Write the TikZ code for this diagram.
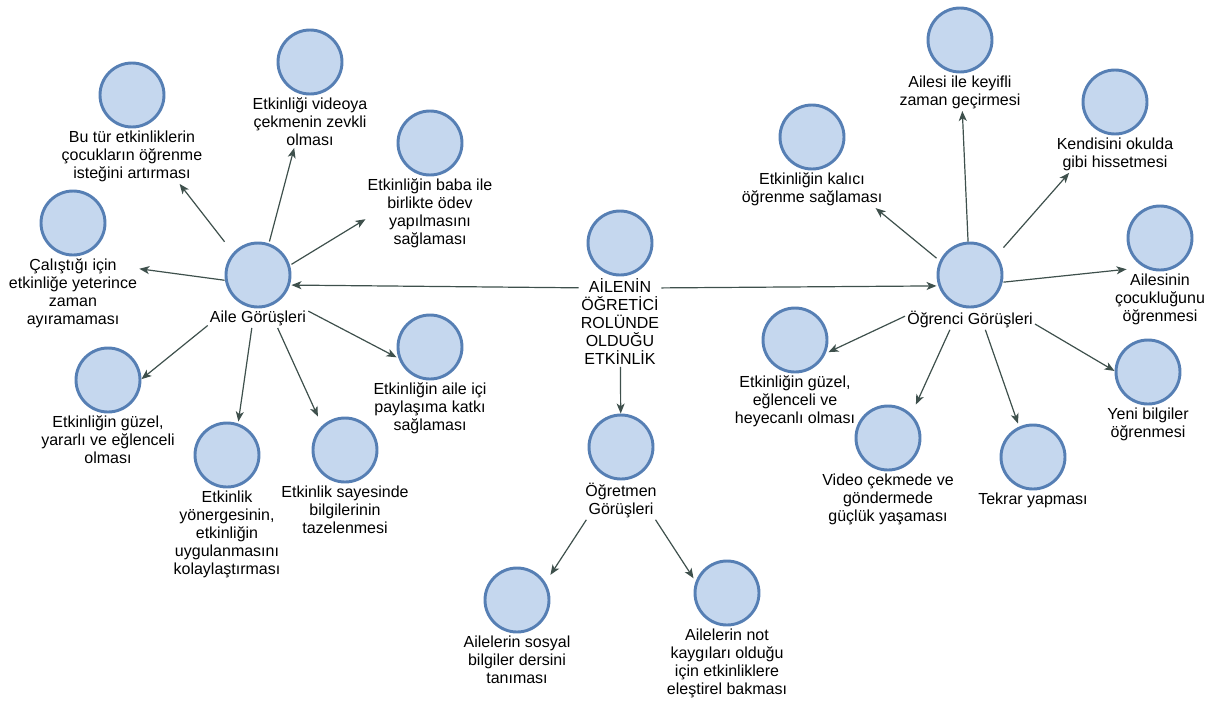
\documentclass[tikz,border=0pt]{standalone}
\usepackage{fontspec}
\setmainfont{Liberation Sans}
\usetikzlibrary{positioning,fit,arrows.meta,intersections}
\definecolor{circF}{RGB}{197,215,238}
\definecolor{circB}{RGB}{86,127,180}
\definecolor{arrC}{RGB}{62,80,76}

\begin{document}
\begin{tikzpicture}[x=0.75pt,y=-0.75pt,
    dot/.style={circle,draw=circB,fill=circF,line width=2.2pt,minimum size=48pt,inner sep=0pt},
    lbl/.style={align=center,inner sep=1.5pt,font=\fontsize{12}{13.5}\selectfont},
    grp/.style={inner sep=0pt},
    arr/.style={draw=arrC,line width=0.9pt,-{Stealth[length=7.5pt,width=6pt,inset=2pt]}}]
      \useasboundingbox (0,0) rectangle (1221,722);
      % circles with their texts
      \foreach \n/\x/\y/\t in {
          merkez/620/243/{AİLENİN\\ÖĞRETİCİ\\ROLÜNDE\\OLDUĞU\\ETKİNLİK},
          aile/258/275/{Aile Görüşleri},
          ogrenci/970/275/{Öğrenci Görüşleri},
          ogretmen/621/447/{Öğretmen\\Görüşleri},
          butur/132/95/{Bu tür etkinliklerin\\çocukların öğrenme\\isteğini artırması},
          videoya/310/62/{Etkinliği videoya\\çekmenin zevkli\\olması},
          baba/430/143/{Etkinliğin baba ile\\birlikte ödev\\yapılmasını\\sağlaması},
          calis/73/223/{Çalıştığı için\\etkinliğe yeterince\\zaman\\ayıramaması},
          guzelA/108/380/{Etkinliğin güzel,\\yararlı ve eğlenceli\\olması},
          yonerge/227/455/{Etkinlik\\yönergesinin,\\etkinliğin\\uygulanmasını\\kolaylaştırması},
          sayesinde/345/450/{Etkinlik sayesinde\\bilgilerinin\\tazelenmesi},
          aileici/430/347/{Etkinliğin aile içi\\paylaşıma katkı\\sağlaması},
          kalici/812/137/{Etkinliğin kalıcı\\öğrenme sağlaması},
          keyifli/960/40/{Ailesi ile keyifli\\zaman geçirmesi},
          okulda/1115/102/{Kendisini okulda\\gibi hissetmesi},
          cocukluk/1160/238/{Ailesinin\\çocukluğunu\\öğrenmesi},
          guzelO/795/340/{Etkinliğin güzel,\\eğlenceli ve\\heyecanlı olması},
          cekme/888/438/{Video çekmede ve\\göndermede\\güçlük yaşaması},
          tekrar/1033/457/{Tekrar yapması},
          yeni/1148/372/{Yeni bilgiler\\öğrenmesi},
          sosyal/517/600/{Ailelerin sosyal\\bilgiler dersini\\tanıması},
          kaygi/727/593/{Ailelerin not\\kaygıları olduğu\\için etkinliklere\\eleştirel bakması}}{
        \node[dot] (\n) at (\x,\y) {};
        \node[lbl,below=0pt of \n] (\n T) {\t};
        \node[grp,fit=(\n)(\n T)] (\n G) {};
        % outline used to cut the arrows: square round the circle plus the text box
        \path[name path global=\n P] (\n.west |- \n.north) rectangle (\n.east |- \n.south)
          (\n T.north west) rectangle (\n T.south east);
      }
      % arrows
      \foreach \a/\b in {merkez/aile,merkez/ogrenci,merkez/ogretmen,
          aile/butur,aile/videoya,aile/baba,aile/calis,aile/guzelA,aile/yonerge,aile/sayesinde,aile/aileici,
          ogrenci/kalici,ogrenci/keyifli,ogrenci/okulda,ogrenci/cocukluk,ogrenci/guzelO,ogrenci/cekme,ogrenci/tekrar,ogrenci/yeni,
          ogretmen/sosyal,ogretmen/kaygi}{
        \path[name path=ln] (\a G.center) -- (\b G.center);
        \path[name intersections={of=ln and \a P,sort by=ln,total=\k}] coordinate (s) at (intersection-\k);
        \path[name intersections={of=ln and \b P,sort by=ln}] coordinate (e) at (intersection-1);
        \draw[arr] (s) -- (e);
      }
    \end{tikzpicture}
\end{document}
